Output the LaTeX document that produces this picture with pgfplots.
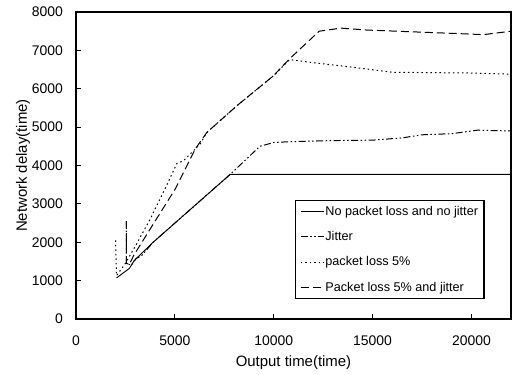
\documentclass[border=0pt]{standalone}
\usepackage{pgfplots}
\pgfplotsset{compat=1.18}
\usepackage{fontspec}
\setmainfont{Liberation Sans}
\begin{document}
\begin{tikzpicture}[x=1bp,y=1bp]
\useasboundingbox (0,0) rectangle (513,374);
\begin{axis}[
  at={(76bp,55bp)}, anchor=south west,
  width=435bp, height=307bp, scale only axis,
  xmin=0, xmax=22000, ymin=0, ymax=8000,
  xtick={0,5000,10000,15000,20000}, ytick={0,1000,...,8000},
  tick align=inside, xtick pos=bottom, ytick pos=left,
  major tick length=5bp,
  axis line style={line width=1.3bp},
  every tick/.style={black, line width=1bp},
  scaled ticks=false,
  /pgf/number format/set thousands separator={},
  /pgf/number format/assume math mode=true,
  ticklabel style={font=\fontsize{14}{16}\selectfont},
  xticklabel style={anchor=center, inner sep=0pt, yshift=-21.7bp},
  yticklabel style={anchor=east, inner sep=0pt, xshift=-13bp},
  label style={font=\fontsize{15}{18}\selectfont},
  xlabel={Output time(time)}, ylabel={Network delay(time)},
  xlabel style={at={(axis description cs:0.5,-0.1433)}, anchor=center},
  ylabel style={at={(axis description cs:-0.1218,0.5)}, anchor=center},
  legend image code/.code={\draw[#1] (0bp,0bp) -- (23bp,0bp);},
  legend style={at={(axis description cs:0.503,0.388)}, anchor=north west,
    draw=black, line width=1.2bp, font=\fontsize{12.7}{15}\selectfont,
    inner xsep=5bp, inner ysep=5bp, row sep=12.5bp, column sep=0bp,
    nodes={inner sep=1bp}},
  legend cell align=left,
]
\addplot[black, line width=0.9bp] coordinates {
(2050,1070) (2700,1320) (2950,1530) (3200,1650) (3900,2000) (7800,3770) (22000,3770)};
\addlegendentry{No packet loss and no jitter}
\addplot[black, line width=1bp, dash pattern=on 7bp off 2.5bp on 1.5bp off 2.5bp on 1.5bp off 2.5bp] coordinates {
(2550,2550) (2550,1450) (2800,1400) (3050,1580) (3300,1640) (3900,2000) (7800,3770) (9300,4500) (10000,4600) (10800,4620) (13000,4650) (15000,4660) (16500,4720) (17500,4800) (19000,4830) (20300,4920) (22000,4900)};
\addlegendentry{Jitter}
\addplot[black, line width=1bp, dash pattern=on 1.5bp off 3bp] coordinates {
(2000,2050) (2050,1130) (2500,1450) (3000,1900) (3750,2600) (4600,3500) (5100,4050) (5450,4130) (6280,4560) (6615,4861) (8130,5555) (9980,6336) (10800,6760) (12000,6680) (14000,6560) (16000,6430) (18000,6420) (20000,6410) (22000,6380)};
\addlegendentry{packet loss 5\%}
\addplot[black, line width=1bp, dash pattern=on 8bp off 4bp] coordinates {
(2550,2550) (2550,1450) (2700,1420) (2910,1650) (4000,2550) (5015,3385) (6025,4427) (6615,4861) (8130,5555) (9980,6336) (10800,6780) (12300,7500) (13400,7580) (14700,7530) (17200,7480) (19200,7440) (20600,7410) (22000,7500)};
\addlegendentry{Packet loss 5\% and jitter}
\end{axis}
\end{tikzpicture}
\end{document}
